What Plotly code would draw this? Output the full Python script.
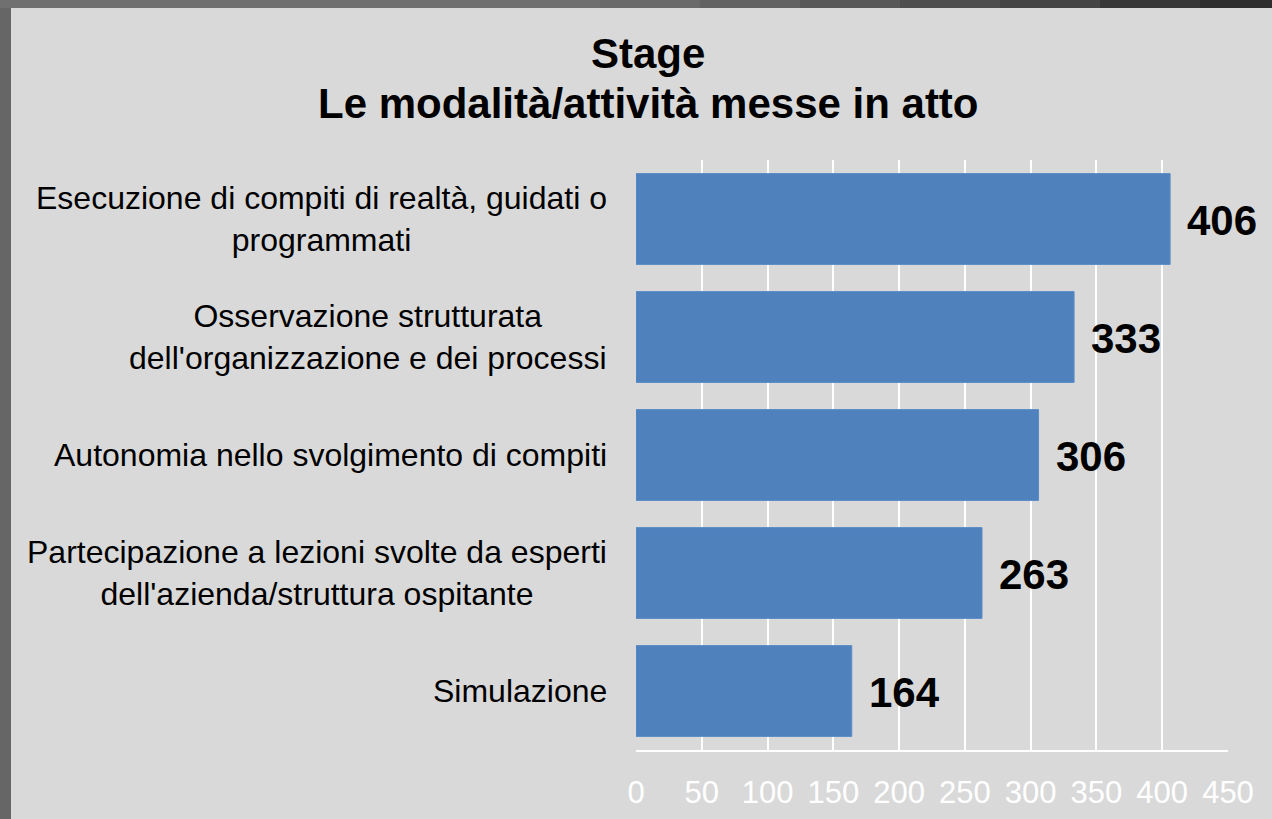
import plotly.graph_objects as go

categories = [
    "Esecuzione di compiti di realtà, guidati o<br>programmati",
    "Osservazione strutturata<br>dell'organizzazione e dei processi",
    "Autonomia nello svolgimento di compiti",
    "Partecipazione a lezioni svolte da esperti<br>dell'azienda/struttura ospitante",
    "Simulazione",
]
values = [406, 333, 306, 263, 164]
x_ticks = [0, 50, 100, 150, 200, 250, 300, 350, 400, 450]
title_lines = ["Stage", "Le modalità/attività messe in atto"]

W, H = 1272, 819
L, R, T, B = 636, 44, 160, 69
PW, PH = W - L - R, H - T - B

FONT = "Liberation Sans, Arial, sans-serif"


def px_x(px):
    return (px - L) / PW


def px_y(py):
    return (H - B - py) / PH


fig = go.Figure()
fig.add_trace(go.Bar(
    x=values,
    y=categories,
    orientation="h",
    marker=dict(color="#4f81bd", line=dict(color="#5b8dc8", width=1)),
    hoverinfo="x+y",
))

annotations = []
for c, v in zip(categories, values):
    annotations.append(dict(
        x=v, y=c, xref="x", yref="y", text=f"<b>{v}</b>", showarrow=False,
        xanchor="left", yanchor="middle", xshift=15, yshift=-1,
        font=dict(family=FONT, size=42, color="#000000"),
    ))
    annotations.append(dict(
        x=0, y=c, xref="paper", yref="y", text=c, showarrow=False,
        xanchor="right", yanchor="middle", xshift=-27, align="center",
        font=dict(family=FONT, size=32, color="#000000"),
    ))

for line, py in zip(title_lines, [54, 104]):
    annotations.append(dict(
        x=px_x(648), y=px_y(py), xref="paper", yref="paper",
        text=f"<b>{line}</b>", showarrow=False,
        xanchor="center", yanchor="middle",
        font=dict(family=FONT, size=42, color="#000000"),
    ))

shapes = [
    dict(type="rect", xref="paper", yref="paper", x0=px_x(0), x1=px_x(11),
         y0=px_y(H), y1=px_y(0), fillcolor="#666666", line=dict(width=0), layer="below"),
]
# top frame band, darkening towards the right
band = [(0, 600, "#707070"), (600, 700, "#6a6a6a"), (700, 800, "#626262"),
        (800, 900, "#585858"), (900, 1000, "#4e4e4e"), (1000, 1100, "#444444"),
        (1100, 1200, "#383838"), (1200, W, "#2e2e2e")]
for x0, x1, col in band:
    shapes.append(dict(type="rect", xref="paper", yref="paper", x0=px_x(x0), x1=px_x(x1),
                       y0=px_y(8), y1=px_y(0), fillcolor=col, line=dict(width=0),
                       layer="below"))

fig.update_layout(
    width=W, height=H,
    autosize=False,
    margin=dict(l=L, r=R, t=T, b=B, pad=0, autoexpand=False),
    paper_bgcolor="#d9d9d9",
    plot_bgcolor="#d9d9d9",
    bargap=0.23,
    showlegend=False,
    xaxis=dict(
        range=[0, 450], tickvals=x_ticks, ticktext=[str(t) for t in x_ticks],
        showgrid=True, gridcolor="#ffffff", gridwidth=2,
        showline=True, linecolor="#ffffff", linewidth=2,
        zeroline=False, ticks="", ticklabelstandoff=14, automargin=False,
        tickfont=dict(family=FONT, size=31, color="#ffffff"),
        fixedrange=True,
    ),
    yaxis=dict(
        autorange="reversed", showticklabels=False, showgrid=False,
        zeroline=False, showline=False, ticks="", fixedrange=True, automargin=False,
    ),
    annotations=annotations,
    shapes=shapes,
)

fig.write_html(
    "out.html",
    config={"displayModeBar": False},
    post_script="document.body.style.margin='0';document.body.style.overflow='hidden';",
)
